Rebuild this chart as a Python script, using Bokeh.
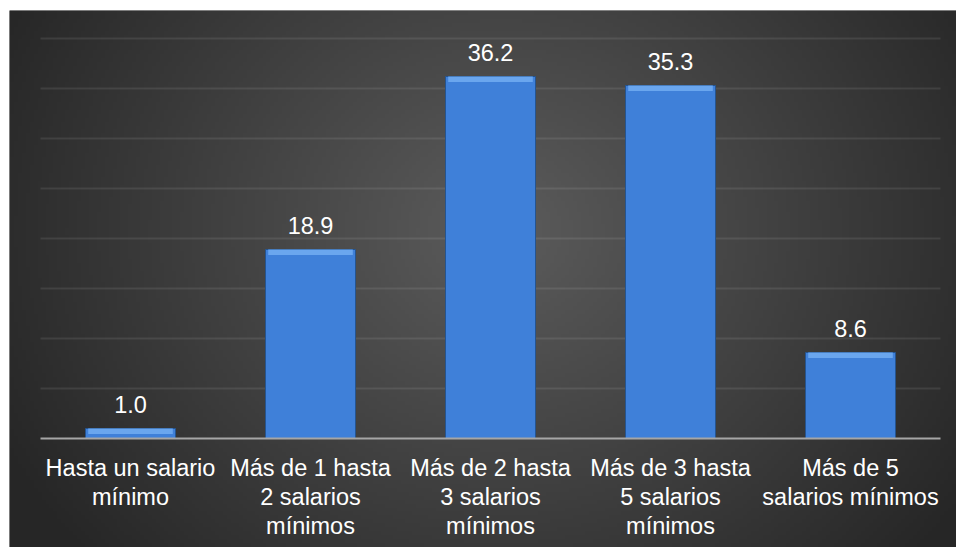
import numpy as np
from bokeh.plotting import figure
from bokeh.models import Range1d, ColumnDataSource
from bokeh.core.properties import value
from bokeh.embed import file_html
from bokeh.resources import INLINE

categories = ["Hasta un salario\nmínimo",
              "Más de 1 hasta\n2 salarios\nmínimos",
              "Más de 2 hasta\n3 salarios\nmínimos",
              "Más de 3 hasta\n5 salarios\nmínimos",
              "Más de 5\nsalarios mínimos"]
values = [1.0, 18.9, 36.2, 35.3, 8.6]
grid_values = [5, 10, 15, 20, 25, 30, 35, 40]

xs = list(range(len(values)))
FONT = "Liberation Sans"

x0, x1 = -121 / 180, 947 / 180 - 121 / 180
y0, y1 = -10.9, 42.8

p = figure(width=956, height=547, output_backend="svg", toolbar_location=None,
           x_axis_type=None, y_axis_type=None,
           x_range=Range1d(x0, x1), y_range=Range1d(y0, y1),
           min_border_left=9, min_border_top=10, min_border_right=0, min_border_bottom=0,
           border_fill_color="white", background_fill_color="#333333",
           outline_line_color=None)
p.grid.visible = False

# radial background gradient
W, H = 240, 136
gx = np.linspace(0, 947, W)
gy = np.linspace(537, 0, H)  # row 0 = bottom
GX, GY = np.meshgrid(gx, gy)
t = np.sqrt(((GX - 491) / 560) ** 2 + ((GY - 220) / 500) ** 2)
t = np.clip(t, 0, 1)
v = (92 * (1 - t) + 38 * t).astype(np.uint32)
img = (255 << 24) | (v << 16) | (v << 8) | v
p.image_rgba(image=[img.astype(np.uint32)], x=x0, y=y0, dw=x1 - x0, dh=y1 - y0)

# gridlines
p.segment(x0=[-0.5] * len(grid_values), x1=[len(values) - 0.5] * len(grid_values),
          y0=grid_values, y1=grid_values, line_color="white", line_alpha=0.09, line_width=2)

src = ColumnDataSource(dict(x=xs, top=values, strip=[v_ - 0.55 for v_ in values],
                            lab=[f"{v_:.1f}" for v_ in values], cat=categories))

p.vbar(x="x", top="top", bottom=0, width=0.5, source=src,
       fill_color="#3f80d9", line_color="#25548f", line_width=1)
p.vbar(x="x", top="top", bottom="strip", width=0.47, source=src,
       fill_color="#6aa6ee", line_color=None)

# baseline
p.segment(x0=[-0.5], x1=[len(values) - 0.5], y0=[0], y1=[0],
          line_color="#a6a6a6", line_width=2)

p.text(x="x", y="top", text="lab", source=src, text_color="white",
       text_font=value(FONT), text_font_size="23.5px",
       text_align="center", text_baseline="middle", y_offset=-24)

p.text(x="x", y=-1.6, text="cat", source=src, text_color="white",
       text_font=value(FONT), text_font_size="23.5px", text_line_height=1.13,
       text_align="center", text_baseline="top")

open("out.html", "w").write(file_html(p, INLINE))
